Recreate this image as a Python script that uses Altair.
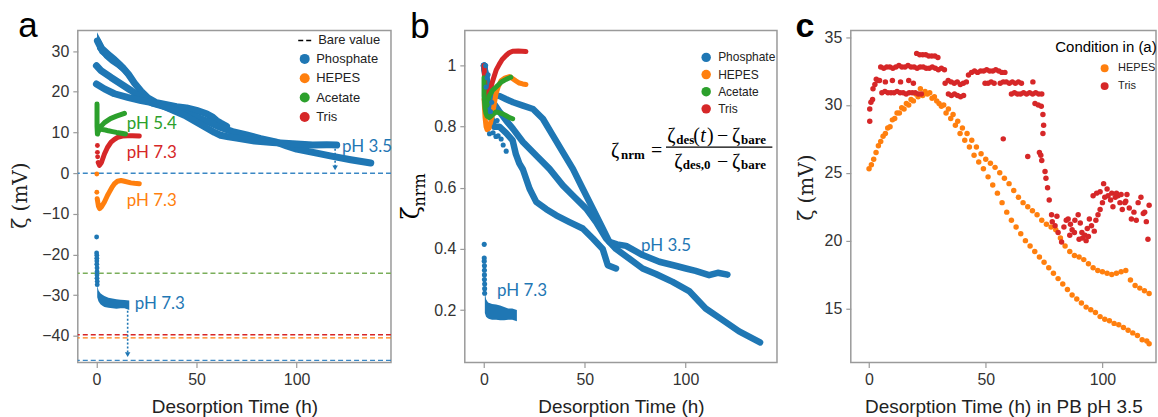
import altair as alt
import pandas as pd

BUFFERS = ["Phosphate", "HEPES", "Acetate", "Tris"]
COLORS = ["#1f77b4", "#ff7f0e", "#2ca02c", "#d62728"]
BLUE = "#1f77b4"

# ======================= panel (a) data : zeta (mV) vs time (h) =======================
# Phosphate pH 3.5 - three runs
a_A_t = [0.5, 3, 7, 10, 13, 16, 19, 22.3, 25.6, 30, 35, 40, 45, 50, 55, 58, 60, 62, 65]
a_A_z = [32.5, 30.0, 28.4, 27.3, 26.0, 24.3, 22.1, 20.1, 18.5, 17.3, 16.8, 16.3, 16.0, 15.4, 14.6, 13.8, 12.9, 12.3, 11.5]
a_A_band_t = [0.3, 2, 4, 7, 10, 13, 16, 19, 22, 25]
a_A_band_hi = [34.6, 33.0, 31.2, 29.8, 28.6, 27.2, 25.4, 23.0, 20.8, 19.0]
a_A_band_lo = [30.5, 29.5, 28.3, 27.0, 26.0, 24.8, 23.2, 21.2, 19.4, 18.0]
a_B_t = [0, 2.3, 7.3, 12.3, 17.3, 22.3, 28, 35, 42, 50, 56, 62, 68, 75, 82, 90, 95, 100, 105, 110, 118, 127, 137]
a_B_z = [26.4, 25.2, 23.5, 21.9, 20.3, 18.6, 17.2, 16.2, 15.0, 13.8, 12.6, 11.2, 10.2, 9.4, 8.5, 7.6, 6.7, 5.9, 5.4, 4.9, 4.1, 3.3, 2.5]
a_C_t = [0, 4, 9, 15.6, 22.3, 27, 32, 38, 44, 49, 54, 59, 62, 66, 70, 79, 88, 98, 108, 115, 120]
a_C_z = [21.9, 20.7, 19.5, 18.6, 17.8, 17.4, 16.8, 15.5, 14.2, 12.8, 11.4, 10.0, 9.3, 8.9, 8.6, 7.9, 7.5, 7.2, 6.9, 7.0, 6.9]
# Phosphate pH 7.3
a_p73_dot_t = [0.1, 0.1, 0.2, 0.2, 0.2, 0.2, 0.3, 0.3, 0.3, 0.3, 0.4, 0.4]
a_p73_dot_z = [-15.7, -19.6, -20.2, -20.9, -21.6, -22.4, -23.3, -24.2, -25.0, -25.8, -26.6, -27.4]
a_p73_t = [0.4, 1, 2, 3, 4, 6, 8, 10, 12, 14, 16.4]
a_p73_hi = [-27.5, -28.8, -29.5, -29.9, -30.2, -30.6, -30.8, -31.0, -31.1, -31.2, -31.3]
a_p73_lo = [-30.5, -31.5, -32.2, -32.6, -32.9, -33.1, -33.2, -33.3, -33.2, -33.2, -33.6]
# Tris pH 7.3
a_tris_dot_t = [0.5, 0.5, 0.6]
a_tris_dot_z = [6.8, 5.1, 4.0]
a_tris_t = [0.9, 1.5, 2.5, 4, 5.5, 7.3, 9, 10.6, 13, 15.6, 18, 21.4]
a_tris_z = [2.6, 1.9, 2.6, 4.7, 6.3, 7.6, 8.3, 8.8, 9.1, 9.2, 9.2, 9.1]
# HEPES pH 7.3
a_hepes_dot_t = [0.2, 0.2]
a_hepes_dot_z = [-0.2, -4.7]
a_hepes_t = [0.4, 1, 1.6, 2.5, 4, 5.5, 6.5, 8, 9, 10.5, 12.3, 14, 17.2, 19, 21.4]
a_hepes_z = [-6.3, -8.1, -8.7, -8.3, -7.1, -5.5, -4.6, -3.3, -2.6, -2.0, -1.8, -2.0, -2.4, -2.5, -2.6]
# Acetate pH 5.4
a_ac_v_t = [0.3, 0.3, 0.3, 0.3, 0.5]
a_ac_v_z = [17.0, 15.5, 13.5, 11.5, 9.6]
a_ac_up_t = [0.6, 1.5, 2.5, 4, 7, 10, 14]
a_ac_up_z = [9.8, 10.8, 11.6, 12.4, 13.4, 14.0, 14.7]
a_ac_lo_t = [0.8, 2, 3, 4.5, 6, 8, 10, 12.5, 14.5]
a_ac_lo_z = [11.6, 11.0, 10.7, 10.6, 10.4, 10.2, 10.0, 9.8, 9.6]
# bare values
a_bare_keys = ["Phosphate pH 3.5", "Acetate", "Tris", "HEPES", "Phosphate pH 7.3"]
a_bare_z = [0.0, -24.6, -39.7, -40.5, -46.0]
# arrows (time, from, to)
a_arrow_t = [15.6, 119.2]
a_arrow_z0 = [-33.8, 6.0]
a_arrow_z1 = [-44.6, 1.3]
# annotations
a_ann_label = ["pH 5.4", "pH 7.3", "pH 7.3", "pH 7.3", "pH 3.5"]
a_ann_buffer = ["Acetate", "Tris", "HEPES", "Phosphate", "Phosphate"]
a_ann_t = [15.1, 15.1, 15.1, 19.1, 122.6]
a_ann_z = [12.1, 5.0, -6.9, -32.1, 6.5]

# ======================= panel (b) data : normalised zeta =======================
b_A_t = [0, 0.5, 1.5, 2.5, 3.5, 5, 7.6, 10.9, 14.2, 15.8, 17.5, 19.3, 22.6, 25.9, 30.9, 35.8, 42.4, 49, 54, 58.9, 61.4, 65.5]
b_A_n = [1.0, 0.98, 0.93, 0.87, 0.83, 0.80, 0.80, 0.78, 0.755, 0.71, 0.68, 0.66, 0.597, 0.554, 0.53, 0.51, 0.488, 0.467, 0.434, 0.40, 0.347, 0.336]
b_B_t = [0, 1.5, 3, 5, 7.8, 11, 14.4, 19.3, 25.9, 32.5, 39.1, 44.1, 50.7, 55.6, 60.6, 65.5, 72.1, 78.7, 85.3, 93.6, 101.8, 110, 118.3, 126.6, 137]
b_B_n = [1.0, 0.95, 0.91, 0.875, 0.848, 0.82, 0.793, 0.75, 0.706, 0.662, 0.608, 0.575, 0.532, 0.488, 0.434, 0.40, 0.368, 0.336, 0.318, 0.292, 0.262, 0.205, 0.168, 0.13, 0.094]
b_C_t = [0, 1, 2.5, 4, 7.8, 11, 14.4, 19.3, 24.3, 29.2, 34.2, 39.1, 44.1, 49, 54, 58.9, 62.2, 66, 70.5, 78.7, 87, 95, 100.2, 105, 111.7, 116, 120.8]
b_C_n = [1.0, 0.95, 0.92, 0.905, 0.90, 0.89, 0.88, 0.869, 0.858, 0.826, 0.771, 0.717, 0.662, 0.597, 0.532, 0.467, 0.423, 0.415, 0.41, 0.38, 0.358, 0.345, 0.336, 0.328, 0.314, 0.322, 0.316]
b_noise_t = [0.8, 1.0, 1.5, 2.0, 2.7, 3.2, 3.8, 4.5, 5.1, 5.9, 6.5, 7.0, 8.5, 9.5, 11.0]
b_noise_n = [1.0, 0.93, 0.96, 0.97, 0.777, 0.85, 0.88, 0.78, 0.80, 0.768, 0.82, 0.77, 0.76, 0.74, 0.72]
b_p73_dot_t = [0.1, 0.1, 0.1, 0.2, 0.2, 0.2, 0.2, 0.3, 0.3, 0.3]
b_p73_dot_n = [0.415, 0.37, 0.36, 0.345, 0.33, 0.315, 0.30, 0.285, 0.27, 0.255]
b_p73_t = [0.4, 1, 2, 3, 4, 6, 8, 10, 12, 14, 16.3]
b_p73_hi = [0.26, 0.235, 0.225, 0.222, 0.22, 0.218, 0.215, 0.21, 0.205, 0.205, 0.2]
b_p73_lo = [0.19, 0.178, 0.172, 0.17, 0.168, 0.168, 0.167, 0.167, 0.168, 0.168, 0.163]
b_tris_t = [0, 0.3, 0.5, 1, 2, 3, 4.3, 6, 7.6, 9, 10.9, 12.5, 14.2, 17, 20.8]
b_tris_n = [1.0, 0.95, 0.92, 0.89, 0.90, 0.92, 0.95, 0.985, 1.005, 1.02, 1.033, 1.042, 1.047, 1.048, 1.046]
b_hepes_t = [0, 0.5, 1, 1.5, 2.5, 3.5, 4.3, 5.2, 5.9, 7, 8.4, 10.5, 12.6, 14, 15.8, 17.5, 19.2, 20.8]
b_hepes_n = [0.89, 0.83, 0.80, 0.79, 0.795, 0.82, 0.842, 0.88, 0.907, 0.93, 0.95, 0.96, 0.964, 0.958, 0.95, 0.943, 0.94, 0.938]
b_ac_v_t = [0, 0, 0, 0.5, 1]
b_ac_v_n = [0.96, 0.93, 0.90, 0.86, 0.842]
b_ac_up_t = [1.5, 2.5, 4.3, 6, 7.6, 9, 10.9, 13.3]
b_ac_up_n = [0.87, 0.90, 0.92, 0.93, 0.94, 0.948, 0.955, 0.962]
b_ac_lo_t = [1.5, 2.7, 4, 5.9, 7.5, 9.3, 11, 12.6, 14.2]
b_ac_lo_n = [0.835, 0.83, 0.838, 0.848, 0.846, 0.842, 0.836, 0.83, 0.826]
b_ann_label = ["pH 3.5", "pH 7.3"]
b_ann_t = [77.9, 6.4]
b_ann_n = [0.409, 0.262]

# ======================= panel (c) data : zeta (mV) in PB pH 3.5 =======================
c_h1_t = [0, 2, 4, 6, 8, 10, 12, 14, 16, 18, 20, 22, 24, 26, 28, 30, 32, 34, 36, 38, 40, 42, 44, 46, 48, 50,
          52, 54, 56, 58, 60, 62, 64, 66, 68, 70, 72, 74, 76, 78, 80, 82, 84, 86, 88, 90, 92, 94, 96, 98, 100,
          102, 104, 106, 108, 110, 112, 114, 116, 118, 120]
c_h1_z = [25.3, 26.0, 27.0, 27.7, 28.3, 28.9, 29.4, 29.8, 30.1, 30.4, 30.8, 31.2, 31.0, 30.9, 30.6, 30.1, 30.0,
          29.7, 29.3, 28.8, 28.3, 27.9, 27.4, 26.9, 26.4, 26.0, 25.7, 25.4, 25.0, 24.6, 24.2, 23.7, 23.2, 22.8,
          22.5, 22.2, 21.9, 21.5, 21.2, 21.0, 20.8, 20.2, 19.6, 19.2, 18.9, 18.8, 18.6, 18.3, 18.0, 17.8, 17.7,
          17.6, 17.5, 17.6, 17.7, 17.8, 17.1, 16.7, 16.5, 16.3, 16.1]
c_h2_t = [1, 3, 5, 7, 9, 11, 13, 15, 17, 19, 21, 23, 25, 27, 29, 31, 33, 35, 37, 39, 41, 43, 45, 47, 49, 51,
          53, 55, 57, 59, 61, 63, 65, 67, 69, 71, 73, 75, 77, 79, 81, 83, 85, 87, 89, 91, 93, 95, 97, 99, 101,
          103, 105, 107, 109, 111, 113, 115, 117, 119, 120]
c_h2_z = [25.6, 26.5, 27.3, 27.9, 28.4, 29.0, 29.4, 29.7, 30.0, 30.3, 30.6, 30.7, 30.8, 30.5, 30.3, 29.9, 29.4,
          29.0, 28.5, 27.9, 27.4, 26.9, 26.3, 25.8, 25.3, 24.7, 24.1, 23.5, 22.8, 22.1, 21.5, 21.0, 20.5, 20.0,
          19.6, 19.2, 18.8, 18.4, 18.0, 17.6, 17.2, 16.8, 16.4, 16.0, 15.7, 15.4, 15.1, 14.9, 14.7, 14.4, 14.2,
          14.1, 13.9, 13.8, 13.6, 13.4, 13.2, 13.0, 12.7, 12.6, 12.4]
c_tris_t = [0.3, 0.3, 0.8, 1.5, 1.7, 2.5, 3.1, 3.8,
            5, 6.3, 7.6, 8.9, 10.2, 11.5, 12.8, 14.1, 15.4, 16.7, 18, 19.3, 20.6, 21.9, 23.2, 24.5, 25.8, 27.1, 28.4, 29.7, 31, 32.3,
            5.5, 6.8, 8.1, 9.4, 10.7, 12, 13.3, 14.6, 15.9, 17.2, 18.5, 19.8, 21.1, 22.4,
            4.5, 7, 10, 13.5, 17, 19,
            20.4, 21.7, 23, 24.3, 25.6, 26.9, 28.2, 29.5,
            32.6, 33.9, 35.2, 36.5, 37.8, 39.1, 40.4, 41.7, 34, 35.3, 36.6, 37.9, 39.2, 40.5,
            42.6, 43.9, 45.2, 46.5, 47.8, 49.1, 50.4, 51.7, 53, 54.3, 55.6, 56.9, 58.2,
            49.7, 51, 52.3, 53.6, 56.2, 57.5, 58.8, 60.1, 61.4, 62.7, 64, 65.3,
            61, 62.3, 63.6, 64.9, 66.2, 67.5, 68.8, 70.1, 71.4, 72.7, 74,
            71.1, 72.5, 73.8, 74.5, 74.8, 74.5, 73.6, 74, 75.4, 75.8, 76.5, 77.2, 73, 70.2, 57.5, 68,
            78.2, 78.5, 79.7, 80.5, 81, 82.5, 83.5, 84.5, 85.3, 86.3, 87, 88.2, 89.6, 90.5, 91.2, 92.5, 93.5, 94.4,
            95.3, 96.5, 97.2, 98.1, 99, 100, 101, 102.4, 103.5, 104.5, 105.5, 106.7, 107.5, 108.5, 109.6, 110.5,
            111.5, 112.4, 113.5, 114.5, 115.3, 116.5, 117.5, 118.1, 118.8, 119.5, 120, 100.5, 102, 104, 96, 97.5,
            99, 106, 108, 110, 90, 91.5, 93, 94, 86, 88]
c_tris_z = [28.8, 29.7, 30.2, 30.4, 31.2, 31.5, 31.9, 31.8,
            32.8, 32.7, 32.8, 32.8, 32.7, 32.8, 32.9, 32.8, 32.8, 32.9, 32.8, 32.8, 32.7, 32.8, 32.8, 32.7, 32.7, 32.8, 32.7, 32.6, 32.7, 32.6,
            30.9, 31.0, 30.9, 30.9, 30.9, 31.0, 30.9, 30.9, 30.8, 30.9, 30.9, 30.9, 30.8, 30.8,
            31.8, 31.7, 31.8, 31.7, 31.8, 31.6,
            33.8, 33.7, 33.7, 33.7, 33.6, 33.6, 33.6, 33.5,
            31.6, 31.8, 31.7, 31.6, 31.7, 31.5, 31.6, 31.7, 30.8, 30.7, 30.8, 30.7, 30.6, 30.7,
            32.2, 32.4, 32.5, 32.4, 32.5, 32.5, 32.6, 32.5, 32.5, 32.6, 32.5, 32.4, 32.4,
            31.6, 31.6, 31.7, 31.6, 31.6, 31.7, 31.7, 31.6, 31.7, 31.6, 31.7, 31.6,
            30.8, 30.9, 30.8, 30.8, 30.9, 30.8, 30.9, 30.8, 30.9, 30.8, 30.8,
            30.1, 30.0, 29.9, 29.3, 28.5, 27.9, 26.3, 25.9, 25.1, 24.6, 23.9, 23.0, 26.5, 31.7, 27.5, 26.2,
            21.9, 21.4, 21.1, 21.8, 20.6, 19.9, 21.0, 21.5, 21.6, 21.2, 20.8, 21.5, 21.9, 21.3, 20.6, 20.4, 20.9, 21.6,
            21.1, 20.7, 21.5, 21.9, 22.3, 22.8, 23.2, 23.3, 23.0, 22.5, 23.2, 23.3, 22.8, 22.3, 22.8, 23.4,
            22.4, 21.6, 22.1, 21.5, 22.8, 23.2, 22.0, 22.1, 21.4, 20.1, 22.6, 24.2, 23.8, 23.5, 23.3, 23.5,
            23.6, 23.5, 23.4, 22.9, 20.1, 20.2, 20.0, 20.3, 20.4, 20.6]

# ======================= text pieces of the formula and y-title of (b) =======================
f_main_text = ["ζ", "=", "ζ", "(", ")", "−", "ζ", "ζ", "−", "ζ"]
f_ital_text = ["t"]
f_sub_text = ["nrm", "des", "bare", "des,0", "bare"]
b_ytitle_text = ["ζ", "nrm"]

# ----------------------------- layout (positions / sizes, panel-b data units) -----------------------------
f_main_t = [63.07, 82.87, 90.94, 103.8, 110.7, 115.6, 123.1, 94.41, 115.6, 123.1]
f_main_n = [0.7006, 0.7006, 0.7496, 0.7496, 0.7496, 0.7496, 0.7496, 0.6647, 0.6647, 0.6647]
f_ital_t = [107.3]
f_ital_n = [0.7496]
f_sub_t = [68.02, 95.4, 127.6, 98.6, 127.6]
f_sub_n = [0.6931, 0.744, 0.744, 0.6624, 0.6624]
bar_t, bar_t2, bar_n = 90.3, 143.1, 0.7332
ytitle_t = [-35.5, -32.0]
ytitle_n = [0.518, 0.593]
ytitle_fs = [24, 16]


def seq(series, buffer, ts, zs):
    return pd.DataFrame({"series": series, "buffer": buffer, "idx": list(range(len(ts))), "t": ts, "z": zs})


def band(series, ts, hi, lo):
    return pd.DataFrame({"series": series, "t": ts, "z": hi, "z2": lo})


# ============================== PANEL A ==============================
xa = alt.X("t:Q", scale=alt.Scale(domain=[-9.3, 147.1], nice=False, zero=False),
           axis=alt.Axis(values=[0, 50, 100], title="Desorption Time (h)", titleY=44, titleBaseline="middle"))
ya = alt.Y("z:Q", scale=alt.Scale(domain=[-46.55, 35.05], nice=False, zero=False),
           axis=alt.Axis(values=[-40, -30, -20, -10, 0, 10, 20, 30], title="ζ (mV)", titleFont="DejaVu Serif",
                         titleFontSize=20, titleAngle=270, titleX=-57, titleY=165, titleAlign="center",
                         titleBaseline="middle"))

buf_scale = alt.Scale(domain=BUFFERS, range=COLORS)

df_rules_a = pd.DataFrame({"kind": "Bare value", "key": a_bare_keys, "z": a_bare_z})
rules_a = alt.Chart(df_rules_a).mark_rule().encode(
    y=ya,
    stroke=alt.Stroke("key:N", scale=alt.Scale(domain=a_bare_keys,
                                                range=["#3a87c4", "#7aae5a", "#d62728", "#ff7f0e", "#3a87c4"]), legend=None),
    strokeWidth=alt.StrokeWidth("key:N", scale=alt.Scale(domain=a_bare_keys, range=[1.5, 1.2, 2, 2, 1.6]), legend=None),
    strokeDash=alt.StrokeDash("kind:N", scale=alt.Scale(domain=["Bare value"], range=[[5, 3]]),
                              legend=alt.Legend(orient="none", legendX=220, legendY=1, title=None, symbolType="stroke",
                                                symbolSize=256, symbolStrokeColor="black", symbolStrokeWidth=1.6,
                                                labelFontSize=13, labelFontWeight="normal", labelOffset=3, padding=0,
                                                labelColor="#222222")),
)

df_area_a = pd.concat([band("A", a_A_band_t, a_A_band_hi, a_A_band_lo),
                       band("p73", a_p73_t, a_p73_hi, a_p73_lo)])
areas_a = alt.Chart(df_area_a).mark_area(color=BLUE, opacity=1).encode(x=xa, y=ya, y2="z2:Q", detail="series:N")

df_blue_a = pd.concat([seq("A", "Phosphate", a_A_t, a_A_z), seq("B", "Phosphate", a_B_t, a_B_z),
                       seq("C", "Phosphate", a_C_t, a_C_z)])
blue_a = alt.Chart(df_blue_a).mark_line(color=BLUE, strokeWidth=7, strokeCap="round", strokeJoin="round").encode(
    x=xa, y=ya, detail="series:N", order="idx:Q")

df_oth_a = pd.concat([seq("tris", "Tris", a_tris_t, a_tris_z), seq("hep", "HEPES", a_hepes_t, a_hepes_z),
                      seq("acv", "Acetate", a_ac_v_t, a_ac_v_z), seq("acu", "Acetate", a_ac_up_t, a_ac_up_z),
                      seq("acl", "Acetate", a_ac_lo_t, a_ac_lo_z)])
oth_a = alt.Chart(df_oth_a).mark_line(strokeWidth=5, strokeCap="round", strokeJoin="round").encode(
    x=xa, y=ya, detail="series:N", order="idx:Q",
    stroke=alt.Stroke("buffer:N", scale=buf_scale, legend=None))

df_dots_a = pd.concat([seq("p", "Phosphate", a_p73_dot_t, a_p73_dot_z), seq("t", "Tris", a_tris_dot_t, a_tris_dot_z),
                       seq("h", "HEPES", a_hepes_dot_t, a_hepes_dot_z)])
dots_a = alt.Chart(df_dots_a).mark_circle(size=24, opacity=1).encode(
    x=xa, y=ya,
    color=alt.Color("buffer:N", scale=buf_scale,
                    legend=alt.Legend(orient="none", legendX=221, legendY=22, title=None, symbolType="circle",
                                      symbolSize=100, labelFontSize=13, labelFontWeight="normal", rowPadding=5.4,
                                      labelOffset=5, padding=0, labelColor="#222222", symbolStrokeWidth=0)))

df_arrow_a = pd.DataFrame({"t": a_arrow_t, "z": a_arrow_z0, "z2": a_arrow_z1})
arrows_a = alt.Chart(df_arrow_a).mark_rule(color=BLUE, strokeDash=[2, 2], strokeWidth=1.6).encode(x=xa, y=ya, y2="z2:Q")
df_head_a = pd.DataFrame({"t": a_arrow_t, "z": a_arrow_z1})
heads_a = alt.Chart(df_head_a).mark_point(shape="triangle-down", filled=True, size=30, color=BLUE, opacity=1).encode(
    x=xa, y=ya)

df_ann_a = pd.DataFrame({"label": a_ann_label, "buffer": a_ann_buffer, "t": a_ann_t, "z": a_ann_z})
ann_a = alt.Chart(df_ann_a).mark_text(align="left", baseline="middle", font="Lato", fontSize=17).encode(
    x=xa, y=ya, text="label:N", fill=alt.Fill("buffer:N", scale=buf_scale, legend=None))

lab_a = alt.Chart(pd.DataFrame({"label": ["a"]})).mark_text(fontSize=35, align="center", baseline="alphabetic",
                                                             color="black").encode(
    x=alt.value(-50), y=alt.value(7), text="label:N")

panel_a = alt.layer(rules_a, areas_a, blue_a, oth_a, dots_a, arrows_a, heads_a, ann_a, lab_a).resolve_scale(
    stroke="independent").properties(width=314, height=333)

# ============================== PANEL B ==============================
xb = alt.X("t:Q", scale=alt.Scale(domain=[-9.55, 145.4], nice=False, zero=False),
           axis=alt.Axis(values=[0, 50, 100], title="Desorption Time (h)", titleY=44, titleBaseline="middle"))
yb = alt.Y("z:Q", scale=alt.Scale(domain=[0.028, 1.115], nice=False, zero=False),
           axis=alt.Axis(values=[0.2, 0.4, 0.6, 0.8, 1.0], format="~g", title=None))

df_area_b = band("p73", b_p73_t, b_p73_hi, b_p73_lo)
areas_b = alt.Chart(df_area_b).mark_area(color=BLUE, opacity=1).encode(x=xb, y=yb, y2="z2:Q", detail="series:N")

df_blue_b = pd.concat([seq("A", "Phosphate", b_A_t, b_A_n), seq("B", "Phosphate", b_B_t, b_B_n),
                       seq("C", "Phosphate", b_C_t, b_C_n)])
blue_b = alt.Chart(df_blue_b).mark_line(color=BLUE, strokeWidth=6.5, strokeCap="round", strokeJoin="round").encode(
    x=xb, y=yb, detail="series:N", order="idx:Q")

df_oth_b = pd.concat([seq("tris", "Tris", b_tris_t, b_tris_n), seq("hep", "HEPES", b_hepes_t, b_hepes_n),
                      seq("acv", "Acetate", b_ac_v_t, b_ac_v_n), seq("acu", "Acetate", b_ac_up_t, b_ac_up_n),
                      seq("acl", "Acetate", b_ac_lo_t, b_ac_lo_n)])
oth_b = alt.Chart(df_oth_b).mark_line(strokeWidth=5, strokeCap="round", strokeJoin="round").encode(
    x=xb, y=yb, detail="series:N", order="idx:Q",
    stroke=alt.Stroke("buffer:N", scale=buf_scale, legend=None))

# panel (b) legend: same entries as (a); the scale lists them in another order (so that the two
# legends are kept apart by Vega-Lite) and the legend shows them in the original order.
df_dots_b = pd.concat([seq("p73", "Phosphate", b_p73_dot_t, b_p73_dot_n), seq("noise", "Phosphate", b_noise_t, b_noise_n)])
dots_b = alt.Chart(df_dots_b).mark_circle(size=26, opacity=1).encode(
    x=xb, y=yb,
    color=alt.Color("buffer:N", scale=alt.Scale(domain=BUFFERS[::-1], range=COLORS[::-1]),
                    legend=alt.Legend(orient="none", legendX=236, legendY=21, title=None, symbolType="circle",
                                      values=BUFFERS, symbolSize=90, labelFontSize=12, labelFontWeight="normal",
                                      rowPadding=5.2, labelOffset=6, padding=0, labelColor="#222222",
                                      symbolStrokeWidth=0)))

df_ann_b = pd.DataFrame({"label": b_ann_label, "t": b_ann_t, "z": b_ann_n})
ann_b = alt.Chart(df_ann_b).mark_text(align="left", baseline="middle", font="Lato", fontSize=17, color=BLUE).encode(
    x=xb, y=yb, text="label:N")

df_fmain = pd.DataFrame({"piece": f_main_text, "t": f_main_t, "z": f_main_n})
fmain_b = alt.Chart(df_fmain).mark_text(align="left", baseline="alphabetic", font="Liberation Serif", fontSize=20,
                                        color="black").encode(x=xb, y=yb, text="piece:N")
df_fital = pd.DataFrame({"piece": f_ital_text, "t": f_ital_t, "z": f_ital_n})
fital_b = alt.Chart(df_fital).mark_text(align="left", baseline="alphabetic", font="Liberation Serif", fontSize=20,
                                        fontStyle="italic", color="black").encode(x=xb, y=yb, text="piece:N")
df_fsub = pd.DataFrame({"piece": f_sub_text, "t": f_sub_t, "z": f_sub_n})
fsub_b = alt.Chart(df_fsub).mark_text(align="left", baseline="alphabetic", font="Liberation Serif", fontSize=13,
                                      fontWeight="bold", color="black").encode(x=xb, y=yb, text="piece:N")
df_bar = pd.DataFrame({"t": [bar_t], "t2": [bar_t2], "z": [bar_n]})
bar_b = alt.Chart(df_bar).mark_rule(color="black", strokeWidth=1.2).encode(x=xb, x2="t2:Q", y=yb)

df_ytitle = pd.DataFrame({"piece": b_ytitle_text, "t": ytitle_t, "z": ytitle_n, "fs": ytitle_fs})
ytitle_b = alt.Chart(df_ytitle).mark_text(angle=270, align="center", baseline="middle", font="DejaVu Serif",
                                          color="black").encode(
    x=xb, y=yb, text="piece:N", size=alt.Size("fs:Q", scale=None, legend=None))

lab_b = alt.Chart(pd.DataFrame({"label": ["b"]})).mark_text(fontSize=35, align="center", baseline="alphabetic",
                                                             color="black").encode(
    x=alt.value(-45), y=alt.value(8), text="label:N")

panel_b = alt.layer(areas_b, blue_b, oth_b, dots_b, ann_b, fmain_b, fital_b, fsub_b, bar_b, ytitle_b,
                    lab_b).properties(width=313, height=333)

# ============================== PANEL C ==============================
xc = alt.X("t:Q", scale=alt.Scale(domain=[-7.82, 122.95], nice=False, zero=False),
           axis=alt.Axis(values=[0, 50, 100], title="Desorption Time (h) in PB pH 3.5", titleY=44,
                         titleBaseline="middle"))
yc = alt.Y("z:Q", scale=alt.Scale(domain=[11.01, 35.49], nice=False, zero=False),
           axis=alt.Axis(values=[15, 20, 25, 30, 35], title="ζ (mV)", titleFont="DejaVu Serif", titleFontSize=20,
                         titleAngle=270, titleX=-44, titleY=157, titleAlign="center", titleBaseline="middle"))

df_c = pd.concat([seq("h1", "HEPES", c_h1_t, c_h1_z), seq("h2", "HEPES", c_h2_t, c_h2_z),
                  seq("tr", "Tris", c_tris_t, c_tris_z)])
dots_c = alt.Chart(df_c).mark_circle(size=30, opacity=1).encode(
    x=xc, y=yc,
    color=alt.Color("buffer:N", scale=alt.Scale(domain=["HEPES", "Tris"], range=["#ff7f0e", "#d62728"]),
                    legend=alt.Legend(orient="none", legendX=249, legendY=32.5, title=None, symbolType="circle",
                                      symbolSize=64, labelFontSize=11, labelFontWeight="normal", rowPadding=5.8,
                                      labelOffset=8, padding=0, labelColor="#222222", symbolStrokeWidth=0)))
ltitle_c = alt.Chart(pd.DataFrame({"label": ["Condition in (a)"]})).mark_text(
    fontSize=15, fontWeight="normal", align="left", baseline="middle", color="black").encode(
    x=alt.value(205), y=alt.value(17), text="label:N")
lab_c = alt.Chart(pd.DataFrame({"label": ["c"]})).mark_text(fontSize=34, fontWeight="bold", align="center",
                                                             baseline="alphabetic", color="black").encode(
    x=alt.value(-46), y=alt.value(7), text="label:N")

panel_c = alt.layer(dots_c, ltitle_c, lab_c).properties(width=306, height=333)

chart = alt.hconcat(panel_a, panel_b, panel_c, spacing=74, bounds="flush").resolve_scale(
    color="independent", stroke="independent", fill="independent", strokeDash="independent",
    strokeWidth="independent", size="independent"
).properties(
    padding={"left": 10, "top": 8, "right": 0, "bottom": 0}
).configure(font="Liberation Sans").configure_view(
    stroke="#9a9a9a", strokeWidth=1.5
).configure_axis(
    grid=False, domain=False, tickColor="#9a9a9a", tickSize=5, tickWidth=1.2,
    labelFont="Liberation Sans", labelFontSize=16, labelColor="#333333", labelPadding=4,
    titleFont="Liberation Sans", titleFontSize=19, titleFontWeight="normal", titleColor="#222222"
)

chart.save("out.html", embed_options={"renderer": "svg", "actions": False})
